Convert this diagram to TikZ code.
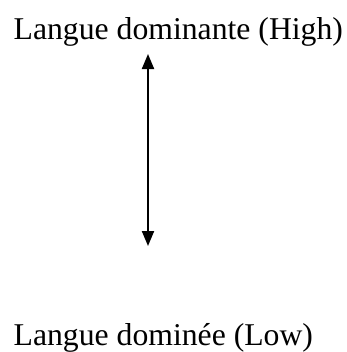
\documentclass[tikz,border=0pt]{standalone}
\usepackage{fontspec}
\setmainfont{Liberation Serif}
\usetikzlibrary{arrows.meta}
\tikzset{
  label/.style={inner sep=0pt, anchor=base west, font=\fontsize{31.7bp}{38bp}\selectfont},
  dblarrow/.style={line width=2bp, {Triangle[length=15bp,width=12bp]}-{Triangle[length=15bp,width=12bp]}}
}
\begin{document}
\begin{tikzpicture}[x=1bp,y=-1bp]
\useasboundingbox (0,0) rectangle (347,352);
\node[label] (high) at (13.5,39) {Langue dominante (High)};
\node[label] (low) at (13.5,345) {Langue dominée (Low)};
\coordinate (top) at (148,54);
\coordinate (bot) at (148,246);
\draw[dblarrow] (top) -- (bot);
\end{tikzpicture}
\end{document}
